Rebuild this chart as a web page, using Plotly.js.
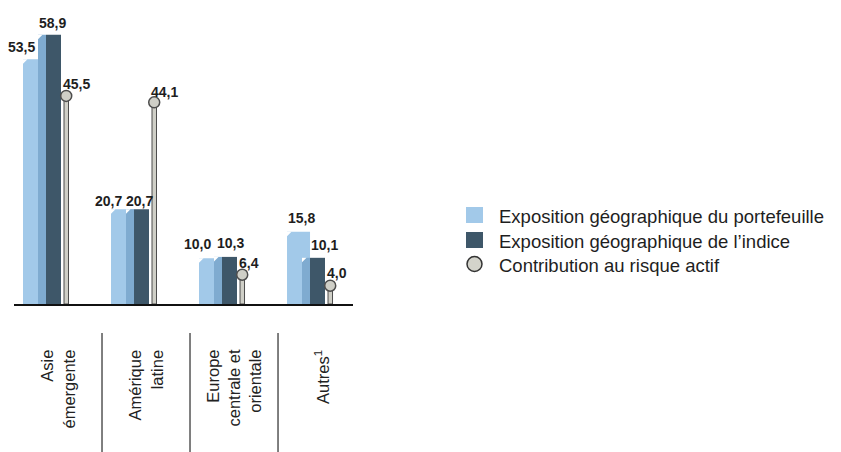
<!DOCTYPE html>
<html>
<head>
<meta charset="utf-8">
<script src="https://cdn.plot.ly/plotly-3.0.1.min.js"></script>
<style>html,body{margin:0;padding:0;background:#fff;}#chart{width:841px;height:452px;}</style>
</head>
<body>
<div id="chart"></div>
<script>
// ---- data ----
const categories = ['Asie<br>émergente', 'Amérique<br>latine', 'Europe<br>centrale et<br>orientale', 'Autres<sup>1</sup>'];
const portfolio = [53.5, 20.7, 10.0, 15.8];
const indexExp = [58.9, 20.7, 10.3, 10.1];
const contribution = [45.5, 44.1, 6.4, 4.0];
const seriesNames = ['Exposition géographique du portefeuille', 'Exposition géographique de l\u2019indice', 'Contribution au risque actif'];

// ---- style ----
const PX = 1 / 88;               // one pixel in category units
const YPX = 62.1 / 284;          // one pixel in value units
const C_LIGHT = '#a2c9e9', C_SIDE = '#7fabd0', C_DARK = '#3e5769', C_GREY = '#cfcfc7', C_OUT = '#4d4d4d';
const xs = categories.map((_, i) => i);
const fmt = v => v.toFixed(1).replace('.', ',');

const lightDx = [-13, -14, -13, 3], lightDy = [12, 8, 14, 14];
const darkDx = [3, 2, 5, 11], darkDy = [12, 8, 14, 13];
const lolDx = [10, 10, 7, 7], lolDy = [12, 10, 12, 13];

const traces = [
  {type: 'bar', x: xs, y: portfolio, offset: -35 * PX, width: 23 * PX, marker: {color: C_LIGHT, line: {width: 0}}, showlegend: false, hoverinfo: 'skip'},
  {type: 'bar', x: xs, y: indexExp, offset: -20 * PX, width: 8 * PX, marker: {color: C_SIDE, line: {width: 0}}, showlegend: false, hoverinfo: 'skip'},
  {type: 'bar', x: xs, y: indexExp, offset: -12 * PX, width: 15 * PX, marker: {color: C_DARK, line: {width: 0}}, showlegend: false, hoverinfo: 'skip'},
  {type: 'bar', x: xs, y: contribution, offset: 6 * PX, width: 4.5 * PX, marker: {color: C_GREY, line: {width: 1, color: C_OUT}}, showlegend: false, hoverinfo: 'skip'},
  {type: 'scatter', mode: 'markers', x: xs.map(i => i + 8.2 * PX), y: contribution, cliponaxis: false,
   marker: {size: 11, color: C_GREY, line: {width: 1.5, color: C_OUT}}, showlegend: false, hoverinfo: 'skip'}
];

const labelFont = {family: '"Liberation Sans", Arial, sans-serif', size: 14, color: '#1e1e1e', weight: 'bold'};
const annotations = [];
xs.forEach(i => {
  annotations.push({x: i - 23.5 * PX, y: portfolio[i], xref: 'x', yref: 'y', text: fmt(portfolio[i]), showarrow: false, xshift: lightDx[i], yshift: lightDy[i], yanchor: 'middle', font: labelFont});
  annotations.push({x: i - 8.5 * PX, y: indexExp[i], xref: 'x', yref: 'y', text: fmt(indexExp[i]), showarrow: false, xshift: darkDx[i], yshift: darkDy[i], yanchor: 'middle', font: labelFont});
  annotations.push({x: i + 8.2 * PX, y: contribution[i], xref: 'x', yref: 'y', text: fmt(contribution[i]), showarrow: false, xshift: lolDx[i], yshift: lolDy[i], yanchor: 'middle', font: labelFont});
  annotations.push({x: i, y: -0.155, xref: 'x', yref: 'paper', text: categories[i], textangle: -90, showarrow: false, xanchor: 'center', yanchor: 'top', align: 'right',
    font: {family: '"Liberation Sans", Arial, sans-serif', size: 16.5, color: '#222'}});
});

// chamfered top-left corners (3D look)
const chamfer = (x0, v) => ({type: 'path', xref: 'x', yref: 'y', layer: 'above',
  path: `M ${x0},${v} L ${x0 + 4.5 * PX},${v} L ${x0},${v - 4.5 * YPX} Z`, fillcolor: '#fff', line: {width: 0}});
const shapes = [];
xs.forEach(i => {
  shapes.push(chamfer(i - 35 * PX, portfolio[i]));
  shapes.push(chamfer(i - 20 * PX, indexExp[i]));
  shapes.push({type: 'line', xref: 'x', yref: 'paper', x0: i + 0.5, x1: i + 0.5, y0: -0.102, y1: -0.53, line: {color: '#555', width: 1.5}});
});

// custom legend (paper coordinates derived from plot area 14..353 px, 20..304 px)
const px2x = p => (p - 14) / 339, px2y = p => (304 - p) / 284;
const legendY = [215, 240, 264];
const legendColors = [C_LIGHT, C_DARK];
legendColors.forEach((c, k) => shapes.push({type: 'rect', xref: 'paper', yref: 'paper',
  x0: px2x(466), x1: px2x(483), y0: px2y(legendY[k] - 8), y1: px2y(legendY[k] + 8), fillcolor: c, line: {width: 0}}));
shapes.push({type: 'circle', xref: 'paper', yref: 'paper', x0: px2x(467), x1: px2x(482), y0: px2y(legendY[2] - 7.5), y1: px2y(legendY[2] + 7.5),
  fillcolor: '#d3d3cb', line: {color: '#333', width: 1.5}});
seriesNames.forEach((n, k) => annotations.push({x: px2x(497), y: px2y(legendY[k] + 1), xref: 'paper', yref: 'paper', text: n, showarrow: false,
  xanchor: 'left', yanchor: 'middle', font: {family: '"Liberation Sans", Arial, sans-serif', size: 18.5, color: '#1e1e1e'}}));

const layout = {
  width: 841, height: 452,
  margin: {l: 14, r: 488, t: 20, b: 148, pad: 0},
  paper_bgcolor: '#fff', plot_bgcolor: '#fff',
  barmode: 'overlay',
  xaxis: {range: [-0.5, 3.352], showgrid: false, zeroline: false, showticklabels: false, ticks: '', showline: true, linecolor: '#111', linewidth: 2, fixedrange: true},
  yaxis: {range: [0, 62.1], visible: false, showgrid: false, zeroline: false, fixedrange: true},
  showlegend: false,
  annotations: annotations,
  shapes: shapes
};

Plotly.newPlot('chart', traces, layout, {displayModeBar: false, staticPlot: true});
</script>
</body>
</html>
